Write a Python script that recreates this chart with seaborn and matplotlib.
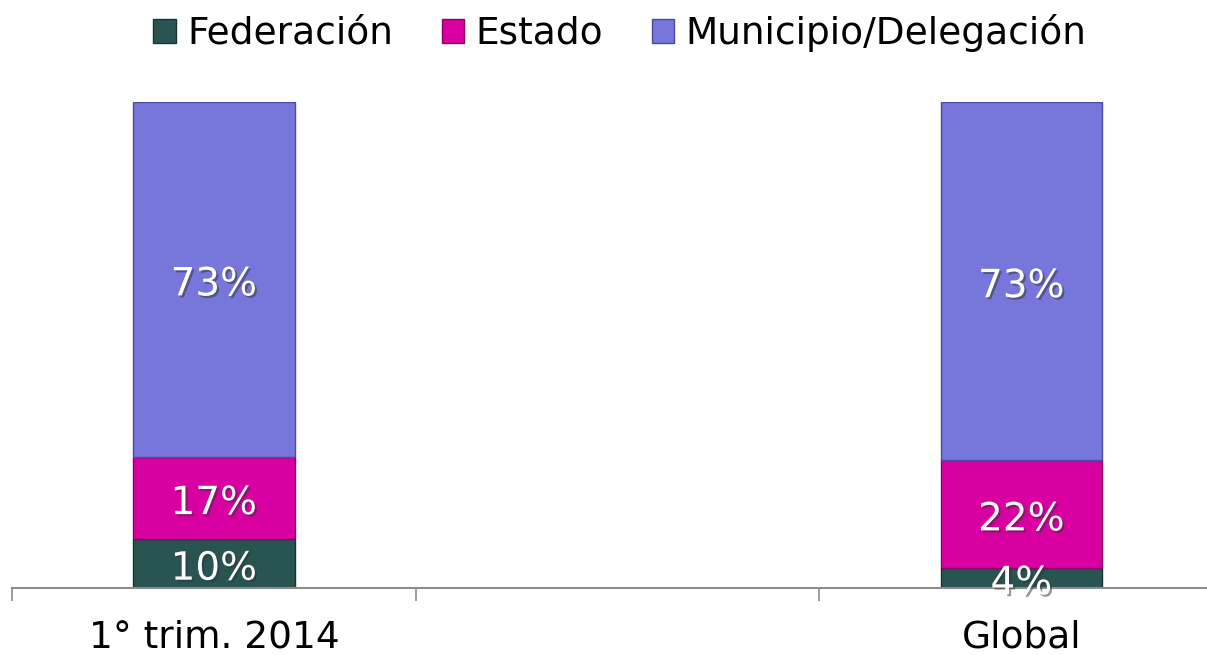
import matplotlib
matplotlib.use("Agg")
import matplotlib.pyplot as plt
import matplotlib.patheffects as pe
from matplotlib.patches import Patch
import seaborn as sns
import pandas as pd
import numpy as np

# categories (middle slot is empty in the original chart)
categories = ["1° trim. 2014", "", "Global"]
bar_categories = ["1° trim. 2014", "Global"]
series = ["Federación", "Estado", "Municipio/Delegación"]
federacion = [10, 4]
estado = [17, 22]
municipio = [73, 73]
colors = ["#285452", "#D800A0", "#7676DB"]
edge_colors = ["#163533", "#8E0068", "#4A4AA0"]

sns.set_style("white")
plt.rcParams["font.family"] = ["DejaVu Sans"]
plt.rcParams["text.color"] = "black"
plt.rcParams["xtick.color"] = "black"

df = pd.DataFrame({"cat": bar_categories, "Federación": federacion,
                   "Estado": estado, "Municipio/Delegación": municipio})
# 100% stacked
totals = df[series].sum(axis=1)
for s in series:
    df[s + "_pct"] = df[s] / totals * 100

fig = plt.figure(figsize=(12.07, 6.55), dpi=100)
ax = fig.add_axes([12 / 1207, 67 / 655, 1 - 12 / 1207, (588 - 102) / 655])

bottom = np.zeros(len(df))
for s, c, ec in zip(series, colors, edge_colors):
    sns.barplot(data=df, x="cat", y=s + "_pct", order=categories, color=c,
                width=0.4, bottom=bottom, edgecolor=ec, linewidth=1.0,
                saturation=1, ax=ax)
    for i, (val, pct) in enumerate(zip(df[s], df[s + "_pct"])):
        xpos = categories.index(df["cat"][i])
        ax.annotate(f"{val}%", (xpos, bottom[i] + pct / 2), xytext=(0, -5),
                    textcoords="offset pixels", ha="center", va="center",
                    color="white", fontsize=28,
                    path_effects=[pe.withSimplePatchShadow(offset=(1.5, -1.5),
                                                           shadow_rgbFace="#333333",
                                                           alpha=0.5)])
    bottom = bottom + df[s + "_pct"].values

ax.set_ylim(0, 100)
ax.set_xlim(-0.5, 2.46)
ax.set_xlabel("")
ax.set_ylabel("")
ax.set_yticks([])

ax.set_xticks([-0.5, 0.5, 1.5])
ax.set_xticklabels([])
ax.tick_params(axis="x", which="major", length=9.5, width=1.2, color="#8C8C8C",
               direction="out", bottom=True)
ax.set_xticks([0, 1, 2], minor=True)
ax.set_xticklabels(categories, minor=True, fontsize=27)
ax.tick_params(axis="x", which="minor", length=0, pad=23, labelcolor="black")

for side in ["top", "right", "left"]:
    ax.spines[side].set_visible(False)
ax.spines["bottom"].set_color("#8C8C8C")
ax.spines["bottom"].set_linewidth(1.5)

handles = [Patch(facecolor=c, edgecolor=ec, linewidth=1.0) for c, ec in zip(colors, edge_colors)]
fig.legend(handles, series, loc="center", bbox_to_anchor=(620 / 1207, 1 - 33 / 655),
           ncol=3, frameon=False, fontsize=27, handlelength=0.6, handleheight=0.6,
           handletextpad=0.3, columnspacing=1.3, labelcolor="black")

fig.savefig("out.png", dpi=100)
